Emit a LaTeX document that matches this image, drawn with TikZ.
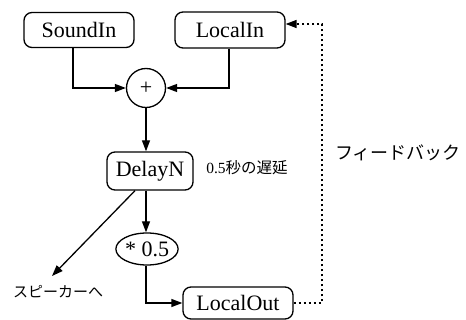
\documentclass[tikz,border=0pt]{standalone}
\usepackage{fontspec}
\setmainfont{Liberation Serif}
\newfontfamily\jpfont{Noto Sans CJK JP}
\usetikzlibrary{arrows.meta,shapes.geometric}
\tikzset{
  box/.style={draw,line width=1.3pt,rounded corners=8pt,inner sep=0pt,font=\fontsize{22}{26}\selectfont},
  op/.style={draw,line width=1.3pt,inner sep=0pt,font=\fontsize{22}{26}\selectfont},
  arr/.style={line width=1.3pt,-{Triangle[length=11pt,width=8pt]}},
  fb/.style={line width=1.4pt,dash pattern=on 2.5pt off 2.5pt,-{Triangle[length=11pt,width=8pt]}},
  jp/.style={inner sep=0pt,font=\jpfont\fontsize{#1}{#1}\selectfont},
}
\begin{document}
\begin{tikzpicture}[x=1pt,y=-1pt]
\useasboundingbox (0,0) rectangle (466,320);
\node[box,minimum width=110pt,minimum height=35pt] (soundin) at (79,30) {SoundIn};
\node[box,minimum width=110pt,minimum height=36pt] (localin) at (230,30) {LocalIn};
\node[op,circle,minimum size=39pt] (plus) at (146,88) {+};
\node[box,minimum width=86pt,minimum height=38pt] (delay) at (150,171) {DelayN};
\node[op,ellipse,minimum width=60pt,minimum height=32pt] (mul) at (147,249) {* 0.5};
\node[box,minimum width=110pt,minimum height=32pt] (localout) at (238,303) {LocalOut};
\node[jp=15.5] (dlabel) at (247,168) {\fontspec{Liberation Serif}0.5\jpfont 秒の遅延};
\node[jp=15] (spk) at (58,292) {スピーカーへ};
\node[jp=18] (fblabel) at (398,153) {フィードバック};
\coordinate (spkend) at (52,276);
\coordinate (fbx) at (322,0);

\draw[arr] ([xshift=-6pt]soundin.south) |- (plus.west);
\draw[arr] ([xshift=-1pt]localin.south) |- (plus.east);
\draw[arr] (plus.south) -- (plus.south |- delay.north);
\draw[arr] (delay.south -| plus.south) -- (mul.north -| plus.south);
\draw[arr] ([xshift=-15pt]delay.south) -- (spkend);
\draw[arr] (mul.south -| plus.south) |- (localout.west);
\draw[fb] (localout.east) -- (localout.east -| fbx) |- ([yshift=6pt]localin.east);
\end{tikzpicture}
\end{document}
